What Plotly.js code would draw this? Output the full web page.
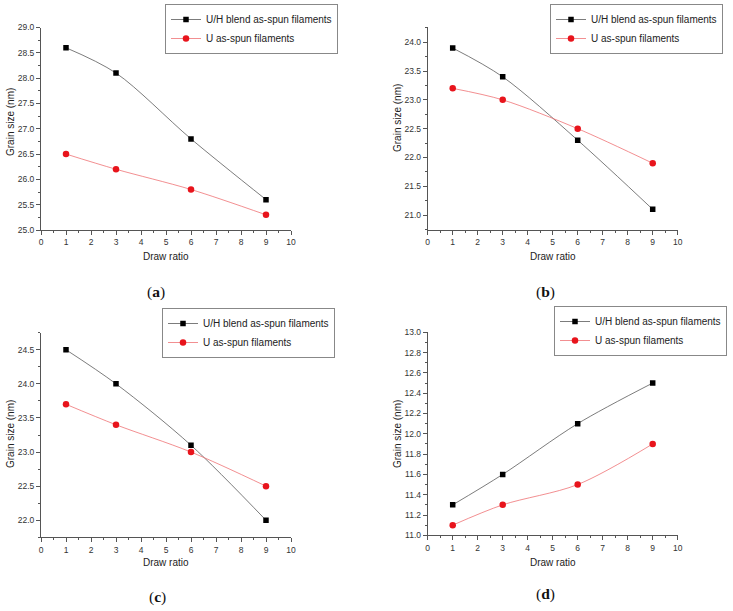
<!DOCTYPE html>
<html>
<head>
<meta charset="utf-8">
<script src="https://cdn.plot.ly/plotly-3.0.1.min.js"></script>
<style>html,body{margin:0;padding:0;background:#fff;}#chart{width:733px;height:611px;}</style>
</head>
<body>
<div id="chart"></div>
<script>
// Data
const drawRatio = [1, 3, 6, 9];
const seriesNames = ["U/H blend as-spun filaments", "U as-spun filaments"];
const blendA = [28.6, 28.1, 26.8, 25.6];
const uA     = [26.5, 26.2, 25.8, 25.3];
const blendB = [23.9, 23.4, 22.3, 21.1];
const uB     = [23.2, 23.0, 22.5, 21.9];
const blendC = [24.5, 24.0, 23.1, 22.0];
const uC     = [23.7, 23.4, 23.0, 22.5];
const blendD = [11.3, 11.6, 12.1, 12.5];
const uD     = [11.1, 11.3, 11.5, 11.9];
const panelLabels = ["a", "b", "c", "d"];
const xTitle = "Draw ratio";
const yTitle = "Grain size (nm)";

const W = 733, H = 611;
const px = v => v / W;
const py = v => 1 - v / H;

const sans = "Liberation Sans, Arial, sans-serif";
const blendStyle = {
  line: {color: "#505050", width: 0.75, shape: "spline", smoothing: 0.9},
  marker: {symbol: "square", size: 5.5, color: "#000"}
};
const uStyle = {
  line: {color: "#ee6a6c", width: 0.75, shape: "spline", smoothing: 0.9},
  marker: {symbol: "circle", size: 6.5, color: "#e8141c"}
};

const panels = [
  {b: blendA, u: uA, sfx: "",  leg: "legend"},
  {b: blendB, u: uB, sfx: "2", leg: "legend2"},
  {b: blendC, u: uC, sfx: "3", leg: "legend3"},
  {b: blendD, u: uD, sfx: "4", leg: "legend4"}
];

const traces = [];
panels.forEach(p => {
  traces.push(Object.assign({
    type: "scatter", mode: "lines+markers", x: drawRatio, y: p.b, name: seriesNames[0],
    xaxis: "x" + p.sfx, yaxis: "y" + p.sfx, legend: p.leg
  }, JSON.parse(JSON.stringify(blendStyle))));
  traces.push(Object.assign({
    type: "scatter", mode: "lines+markers", x: drawRatio, y: p.u, name: seriesNames[1],
    xaxis: "x" + p.sfx, yaxis: "y" + p.sfx, legend: p.leg
  }, JSON.parse(JSON.stringify(uStyle))));
});

const axisBase = {
  showline: true, linecolor: "#555", linewidth: 1,
  ticks: "outside", ticklen: 4, tickwidth: 1, tickcolor: "#555",
  showgrid: false, zeroline: false,
  tickfont: {family: sans, size: 8.5, color: "#333"},
  fixedrange: true
};

function xax(dom, anchor) {
  return Object.assign({}, axisBase, {
    domain: dom, anchor: anchor, range: [0, 10], dtick: 1, tick0: 0,
    minor: {ticks: "outside", ticklen: 2, tickcolor: "#555", dtick: 0.5, tick0: 0, showgrid: false}
  });
}
function yax(dom, anchor, range, dt) {
  return Object.assign({}, axisBase, {
    domain: dom, anchor: anchor, range: range, dtick: dt, tick0: 0, tickformat: ".1f",
    minor: {ticks: "outside", ticklen: 2, tickcolor: "#555", dtick: dt / 2, tick0: 0, showgrid: false}
  });
}

const xDomL = [px(41), px(291)];
const xDomR = [px(427.7), px(677.7)];

const legBase = {
  xanchor: "right", yanchor: "top",
  bgcolor: "rgba(255,255,255,0)", bordercolor: "#888", borderwidth: 1,
  font: {family: sans, size: 10, color: "#222"}, itemwidth: 30, tracegroupgap: 0
};

const annotations = [];
const xTitlePos = [[166, 257], [553, 257], [166, 562], [553, 562]];
const yTitlePos = [[10, 122], [397, 118], [10, 434], [397, 434]];
const labPos = [[156, 292], [545, 292], [157, 597], [545, 594]];
for (let i = 0; i < 4; i++) {
  annotations.push({xref: "paper", yref: "paper", x: px(xTitlePos[i][0]), y: py(xTitlePos[i][1]),
    xanchor: "center", yanchor: "middle", showarrow: false, text: xTitle,
    font: {family: sans, size: 10, color: "#222"}});
  annotations.push({xref: "paper", yref: "paper", x: px(yTitlePos[i][0]), y: py(yTitlePos[i][1]),
    xanchor: "center", yanchor: "middle", showarrow: false, text: yTitle, textangle: -90,
    font: {family: sans, size: 10, color: "#222"}});
  annotations.push({xref: "paper", yref: "paper", x: px(labPos[i][0]), y: py(labPos[i][1]),
    xanchor: "center", yanchor: "middle", showarrow: false, text: "(<b>" + panelLabels[i] + "</b>)",
    font: {family: "Liberation Serif, DejaVu Serif, serif", size: 15.5, color: "#111"}});
}

const layout = {
  width: W, height: H, margin: {l: 0, r: 0, t: 0, b: 0},
  paper_bgcolor: "#fff", plot_bgcolor: "#fff",
  showlegend: true,
  xaxis:  xax(xDomL, "y"),
  yaxis:  yax([py(230), py(27.5)], "x", [25, 29], 0.5),
  xaxis2: xax(xDomR, "y2"),
  yaxis2: yax([py(229.5), py(26.7)], "x2", [20.75, 24.27], 0.5),
  xaxis3: xax(xDomL, "y3"),
  yaxis3: yax([py(537.3), py(332.7)], "x3", [21.75, 24.75], 0.5),
  xaxis4: xax(xDomR, "y4"),
  yaxis4: yax([py(535.3), py(332.3)], "x4", [11.0, 13.0], 0.2),
  legend:  Object.assign({}, legBase, {x: px(338), y: py(4)}),
  legend2: Object.assign({}, legBase, {x: px(723), y: py(4)}),
  legend3: Object.assign({}, legBase, {x: px(335), y: py(308)}),
  legend4: Object.assign({}, legBase, {x: px(727), y: py(306)}),
  annotations: annotations
};

Plotly.newPlot("chart", traces, layout, {displayModeBar: false, staticPlot: true});
</script>
</body>
</html>
